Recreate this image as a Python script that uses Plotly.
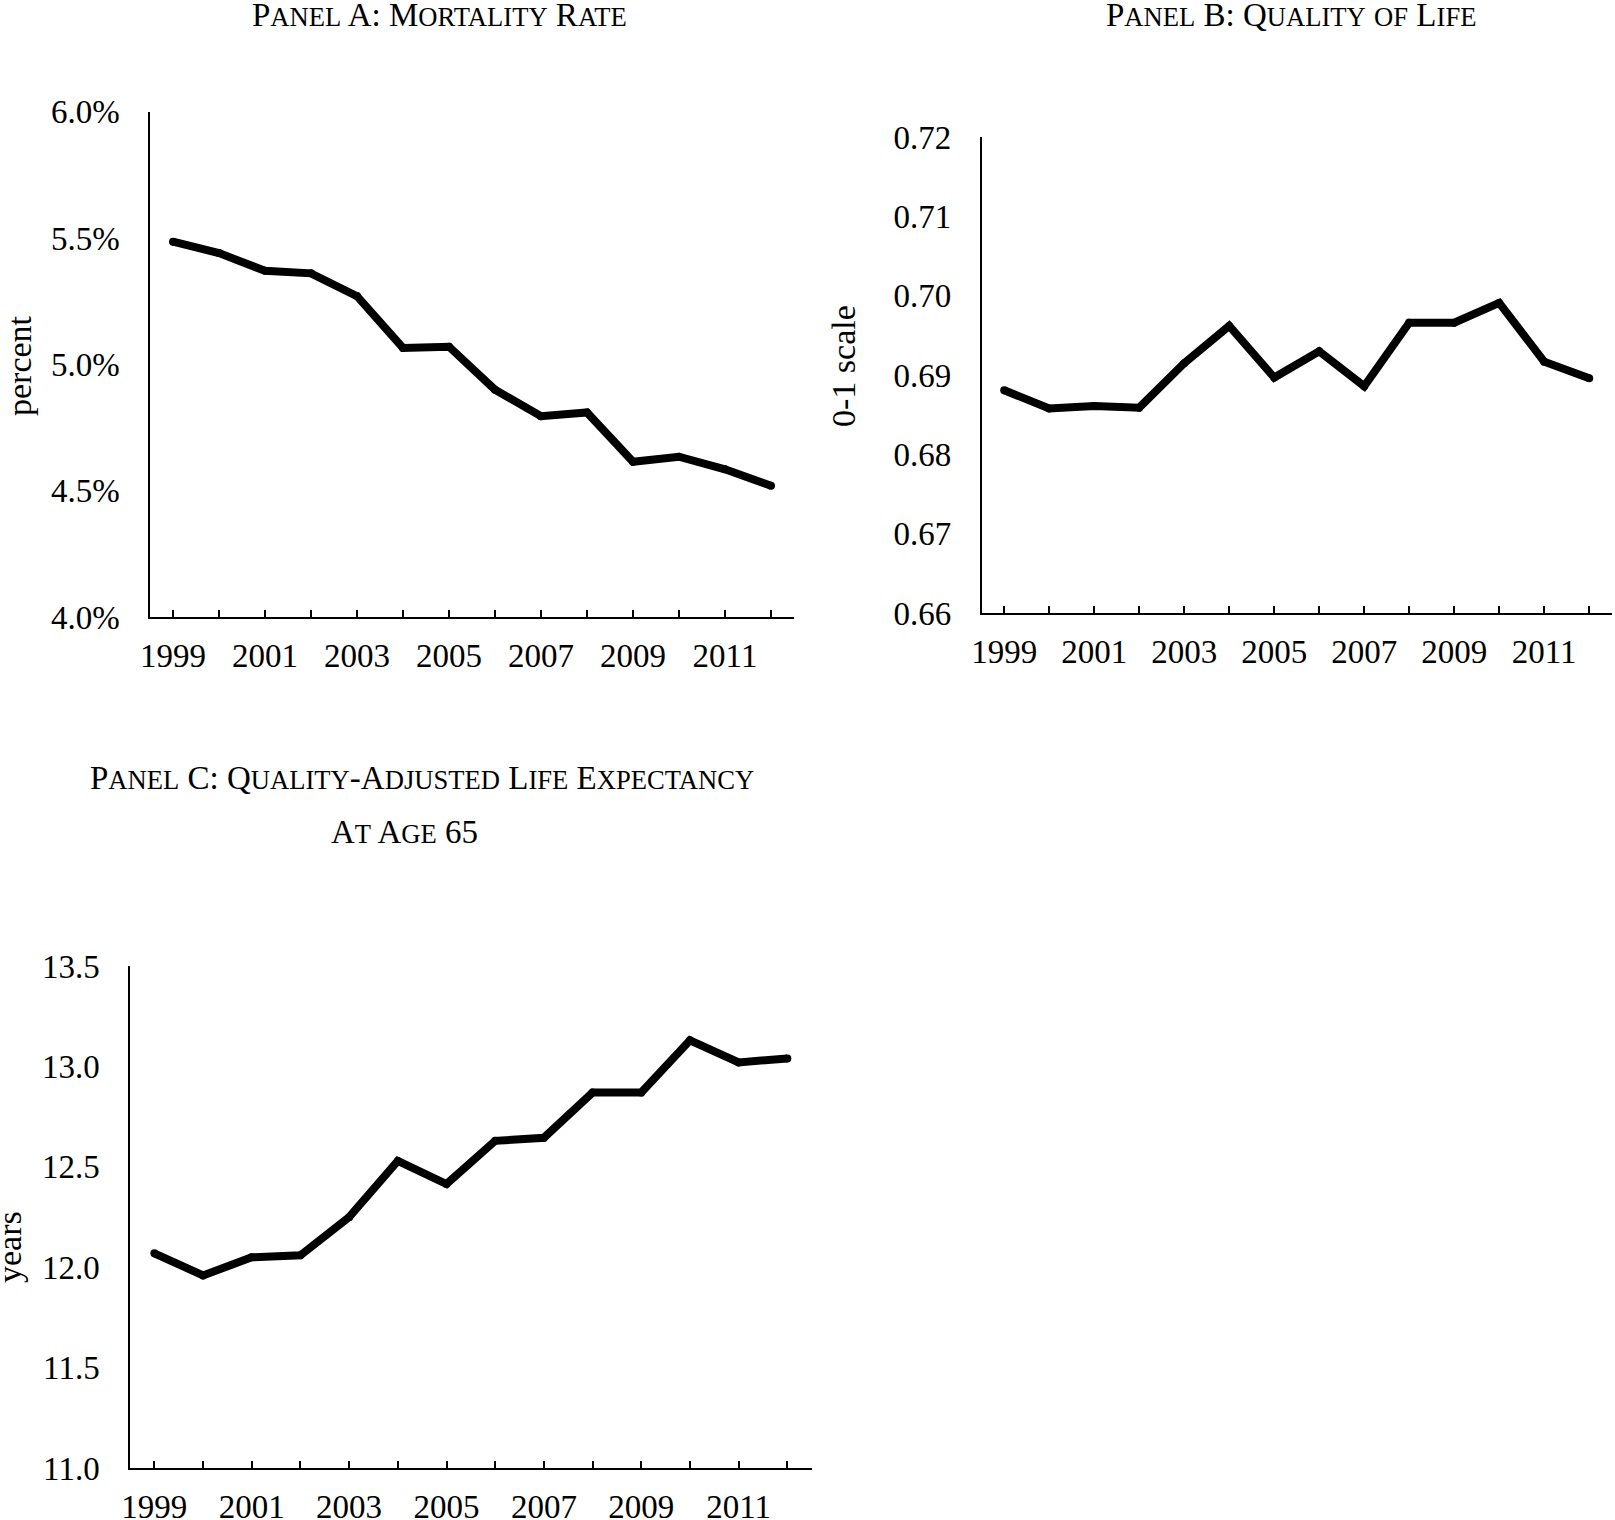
import plotly.graph_objects as go

years = [1999, 2000, 2001, 2002, 2003, 2004, 2005, 2006, 2007, 2008, 2009, 2010, 2011, 2012]
mortality = [5.485, 5.44, 5.37, 5.36, 5.27, 5.065, 5.07, 4.90, 4.795, 4.81, 4.615, 4.635, 4.585, 4.52]
quality = [0.6881, 0.6858, 0.6861, 0.6859, 0.6915, 0.6962, 0.6897, 0.6930, 0.6886, 0.6966, 0.6966, 0.6991, 0.6917, 0.6896]
qale = [12.07, 11.96, 12.05, 12.06, 12.25, 12.53, 12.415, 12.63, 12.645, 12.87, 12.87, 13.13, 13.02, 13.04]

tick_years = years + [2012.5]
tick_text = [str(y) if y % 2 == 1 else "" for y in years] + [""]

W, H = 1615, 1520
FONT = "Liberation Serif, Times New Roman, serif"
TICK_SIZE = 33
LABEL_SIZE = 34
BIG = 33
SMALL = 26.6


def px_x(p):
    return p / W


def px_y(p):
    return 1 - p / H


def sc(s):
    """Small caps text built from spans: capitals large, lowercase as smaller capitals."""
    out = []
    for ch in s:
        if ch.islower():
            out.append("<span style='font-size:%spx'>%s</span>" % (SMALL, ch.upper()))
        else:
            out.append(ch)
    return "".join(out)


fig = go.Figure()

panels = [
    dict(y=mortality, xa="x", ya="y", xdom=(150, 794), ydom=(111.5, 617.3),
         yrange=[4.0, 6.0], dtick=0.5, fmt=".1f", suffix="%"),
    dict(y=quality, xa="x2", ya="y2", xdom=(981.7, 1611.7), ydom=(137, 613.3),
         yrange=[0.66, 0.72], dtick=0.01, fmt=".2f", suffix=""),
    dict(y=qale, xa="x3", ya="y3", xdom=(130, 811.7), ydom=(966, 1468.3),
         yrange=[11.0, 13.5], dtick=0.5, fmt=".1f", suffix=""),
]

layout_axes = {}
for i, p in enumerate(panels):
    fig.add_trace(go.Scatter(
        x=years, y=p["y"], xaxis=p["xa"], yaxis=p["ya"], mode="lines+markers",
        line=dict(color="black", width=8),
        marker=dict(color="black", size=8, line=dict(width=0)),
        showlegend=False, hoverinfo="x+y",
    ))
    sfx = "" if i == 0 else str(i + 1)
    layout_axes["xaxis" + sfx] = dict(
        domain=[px_x(p["xdom"][0]), px_x(p["xdom"][1])],
        anchor="y" + sfx, range=[1998.5, 2012.5], automargin=False,
        tickmode="array", tickvals=tick_years, ticktext=tick_text,
        ticks="inside", ticklen=7, tickwidth=2, tickcolor="black",
        showline=True, linecolor="black", linewidth=2,
        showgrid=False, zeroline=False,
        tickfont=dict(family=FONT, size=TICK_SIZE, color="black"),
        ticklabelstandoff=8,
    )
    layout_axes["yaxis" + sfx] = dict(
        domain=[px_y(p["ydom"][1]), px_y(p["ydom"][0])],
        anchor="x" + sfx, range=p["yrange"], automargin=False,
        tickmode="linear", tick0=p["yrange"][0], dtick=p["dtick"],
        tickformat=p["fmt"], ticksuffix=p["suffix"],
        ticks="", showline=True, linecolor="black", linewidth=1.5,
        showgrid=False, zeroline=False,
        tickfont=dict(family=FONT, size=TICK_SIZE, color="black"),
        ticklabelstandoff=22,
    )

title_font = dict(family=FONT, size=BIG, color="black")
label_font = dict(family=FONT, size=LABEL_SIZE, color="black")

annotations = [
    dict(text=sc("Panel A: Mortality Rate"), x=px_x(439), y=px_y(15), font=title_font),
    dict(text=sc("Panel B: Quality of Life"), x=px_x(1291), y=px_y(15), font=title_font),
    dict(text=sc("Panel C: Quality-Adjusted Life Expectancy"), x=px_x(422), y=px_y(778), font=title_font),
    dict(text=sc("At Age 65"), x=px_x(404), y=px_y(832), font=title_font),
    dict(text="percent", x=px_x(19), y=px_y(366), font=label_font, textangle=-90),
    dict(text="0-1 scale", x=px_x(843), y=px_y(366), font=label_font, textangle=-90),
    dict(text="years", x=px_x(9), y=px_y(1247), font=label_font, textangle=-90),
]
for a in annotations:
    a.update(xref="paper", yref="paper", xanchor="center", yanchor="middle", showarrow=False)

fig.update_layout(
    width=W, height=H,
    margin=dict(l=0, r=0, t=0, b=0, pad=0),
    paper_bgcolor="white", plot_bgcolor="white",
    annotations=annotations,
    **layout_axes,
)

fig.write_html(
    "out.html",
    config={"displayModeBar": False},
    post_script="document.body.style.margin='0';document.body.style.overflow='hidden';",
)
